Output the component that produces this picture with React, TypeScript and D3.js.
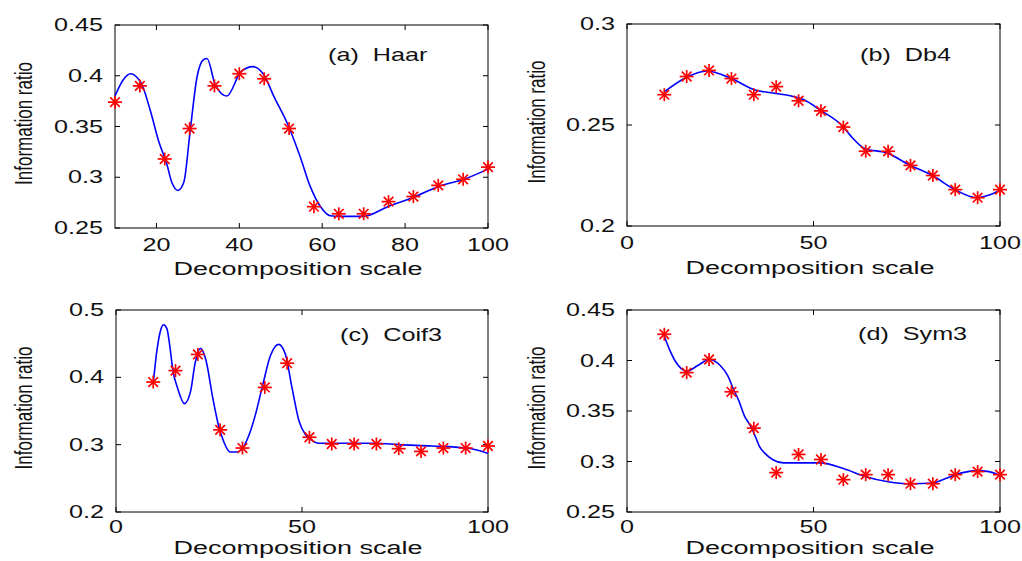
import React from 'react';
import * as d3 from 'd3';

// Decomposition scales at which the information ratio was evaluated
const decompositionScale = [10, 16, 22, 28, 34, 40, 46, 52, 58, 64, 70, 76, 82, 88, 94, 100];

// Measured information ratio per wavelet
const haarRatio = [0.374, 0.39, 0.318, 0.348, 0.39, 0.402, 0.397, 0.348, 0.271, 0.264, 0.264, 0.276, 0.281, 0.292, 0.298, 0.31];
const db4Ratio = [0.265, 0.274, 0.277, 0.273, 0.265, 0.269, 0.262, 0.257, 0.249, 0.237, 0.237, 0.23, 0.225, 0.218, 0.214, 0.218];
const coif3Ratio = [0.393, 0.41, 0.434, 0.322, 0.295, 0.385, 0.421, 0.311, 0.301, 0.301, 0.301, 0.294, 0.29, 0.295, 0.295, 0.298];
const sym3Ratio = [0.426, 0.388, 0.401, 0.369, 0.333, 0.289, 0.307, 0.302, 0.282, 0.287, 0.287, 0.278, 0.278, 0.287, 0.29, 0.287];

// Fitted curves (scale, ratio)
const haarFitX = [10, 12, 13.7, 16.3, 18.5, 20.5, 22.5, 23.7, 25.2, 26.6, 28.2, 29.8, 31.4, 32.2, 34.2, 37, 40.4, 43.3, 45.9, 48.3, 51.9, 54.7, 57.1, 59.6, 62, 64.1, 70, 75.8, 81.9, 88.1, 94.2, 100];
const haarFitY = [0.38, 0.396, 0.402, 0.393, 0.366, 0.336, 0.313, 0.295, 0.287, 0.295, 0.348, 0.399, 0.416, 0.417, 0.391, 0.38, 0.404, 0.409, 0.401, 0.38, 0.35, 0.32, 0.291, 0.271, 0.262, 0.2615, 0.2615, 0.271, 0.28, 0.291, 0.298, 0.308];

const db4FitX = [10, 16, 21.4, 27.9, 33.9, 39.9, 43.75, 47.3, 51.8, 57.8, 59.8, 63.8, 69.7, 75.8, 81.8, 87.9, 93.75, 96.9, 100];
const db4FitY = [0.2664, 0.2736, 0.2767, 0.2731, 0.2676, 0.2656, 0.2645, 0.2626, 0.2574, 0.2494, 0.245, 0.2383, 0.2362, 0.2301, 0.2251, 0.218, 0.214, 0.2152, 0.2177];

const coif3FitX = [10, 11, 12, 12.8, 13.7, 14.5, 15.3, 16.5, 18.4, 20, 21.3, 22.7, 24.2, 26, 27.5, 29, 30.7, 32.5, 34.3, 36, 37.5, 39.5, 41.5, 43.7, 45.5, 47.3, 49.2, 50.9, 52.5, 54.5, 58, 70, 76, 85, 94, 97, 100];
const coif3FitY = [0.39, 0.44, 0.47, 0.478, 0.472, 0.445, 0.41, 0.385, 0.361, 0.378, 0.422, 0.443, 0.425, 0.37, 0.33, 0.304, 0.289, 0.289, 0.297, 0.318, 0.345, 0.39, 0.432, 0.449, 0.435, 0.385, 0.335, 0.315, 0.307, 0.302, 0.302, 0.302, 0.3, 0.298, 0.295, 0.292, 0.287];

const sym3FitX = [10, 11.5, 13, 16, 19, 22, 25, 27, 28.5, 30, 31.5, 33, 34.5, 35.5, 37, 39, 42, 52, 58, 64, 70, 76, 82, 86, 90, 94, 97, 100];
const sym3FitY = [0.424, 0.41, 0.399, 0.3895, 0.395, 0.401, 0.395, 0.385, 0.372, 0.36, 0.345, 0.336, 0.324, 0.315, 0.308, 0.302, 0.2986, 0.2986, 0.293, 0.285, 0.28, 0.278, 0.2787, 0.284, 0.289, 0.291, 0.29, 0.286];

// Axis ticks
const haarXTicks = [20, 40, 60, 80, 100];
const fullXTicks = [0, 50, 100];
const haarYTicks = [0.25, 0.3, 0.35, 0.4, 0.45];
const db4YTicks = [0.2, 0.25, 0.3];
const coif3YTicks = [0.2, 0.3, 0.4, 0.5];
const sym3YTicks = [0.25, 0.3, 0.35, 0.4, 0.45];

const titles = ['(a)  Haar', '(b)  Db4', '(c)  Coif3', '(d)  Sym3'];

const FONT = '"Liberation Sans", Arial, Helvetica, sans-serif';
const SX = 1.4; // horizontal text stretch
const TEXT_COLOR = '#111';

interface PanelProps {
  left: number; right: number; top: number; bottom: number;
  xDomain: [number, number]; yDomain: [number, number];
  xTicks: number[]; yTicks: number[];
  points: number[]; fitX: number[]; fitY: number[];
  title: string; titleX: number; titleY: number; yLabelX: number;
  xLabelY: number; xLabelCx: number; xTickDy: number;
}

function Star({ x, y }: { x: number; y: number }) {
  const h = 7, v = 6.5, d = 4.8;
  return (
    <g stroke="#ff0000" strokeWidth={1.7} strokeLinecap="butt">
      <line x1={x - h} y1={y} x2={x + h} y2={y} />
      <line x1={x} y1={y - v} x2={x} y2={y + v} />
      <line x1={x - d} y1={y - d} x2={x + d} y2={y + d} />
      <line x1={x - d} y1={y + d} x2={x + d} y2={y - d} />
    </g>
  );
}

function Panel(p: PanelProps) {
  const x = d3.scaleLinear().domain(p.xDomain).range([p.left, p.right]);
  const y = d3.scaleLinear().domain(p.yDomain).range([p.bottom, p.top]);
  const fit = p.fitX.map((v, i) => [v, p.fitY[i]] as [number, number]);
  const path = d3.line<[number, number]>()
    .x(d => x(d[0]))
    .y(d => y(d[1]))
    .curve(d3.curveMonotoneX)(fit) || '';
  const tickLen = 5;
  const fmt = (v: number) => String(+v.toFixed(2));
  const midY = (p.top + p.bottom) / 2;
  return (
    <g>
      <rect x={p.left} y={p.top} width={p.right - p.left} height={p.bottom - p.top} fill="#fff" stroke="#000" strokeWidth={1} />
      {p.xTicks.map(t => (
        <g key={'xt' + t}>
          <line x1={x(t)} x2={x(t)} y1={p.bottom} y2={p.bottom - tickLen} stroke="#000" />
          <line x1={x(t)} x2={x(t)} y1={p.top} y2={p.top + tickLen} stroke="#000" />
          <text transform={`translate(${x(t)},${p.bottom + p.xTickDy}) scale(${SX},1)`} textAnchor="middle"
            fontFamily={FONT} fontSize={18} fill={TEXT_COLOR}>{fmt(t)}</text>
        </g>
      ))}
      {p.yTicks.map(t => (
        <g key={'yt' + t}>
          <line x1={p.left} x2={p.left + tickLen} y1={y(t)} y2={y(t)} stroke="#000" />
          <line x1={p.right} x2={p.right - tickLen} y1={y(t)} y2={y(t)} stroke="#000" />
          <text transform={`translate(${p.left - 12},${y(t)}) scale(${SX},1)`} textAnchor="end"
            dominantBaseline="central" fontFamily={FONT} fontSize={18} fill={TEXT_COLOR}>{fmt(t)}</text>
        </g>
      ))}
      <path d={path} fill="none" stroke="#0000ff" strokeWidth={1.6} />
      {decompositionScale.map((s, i) => (
        <Star key={'s' + i} x={x(s)} y={y(p.points[i])} />
      ))}
      <text transform={`translate(${p.titleX},${p.titleY}) scale(${SX},1)`} fontFamily={FONT} fontSize={18}
        fill={TEXT_COLOR} xmlSpace="preserve" style={{ whiteSpace: 'pre' }}>{p.title}</text>
      <text x={p.xLabelCx} y={p.xLabelY} textAnchor="middle" textLength={249} lengthAdjust="spacingAndGlyphs"
        fontFamily={FONT} fontSize={18} fill={TEXT_COLOR}>Decomposition scale</text>
      <text transform={`translate(${p.yLabelX},${midY - 3}) scale(${SX},1) rotate(-90)`} textAnchor="middle"
        dominantBaseline="central" fontFamily={FONT} fontSize={17} fill={TEXT_COLOR}>Information ratio</text>
    </g>
  );
}

export default function App() {
  return (
    <svg width={1022} height={561} viewBox="0 0 1022 561"
      style={{ position: 'absolute', left: 0, top: 0, background: '#fff' }}>
      <rect x={0} y={0} width={1022} height={561} fill="#fff" />
      <Panel left={115} right={488} top={25} bottom={228} xDomain={[10, 100]} yDomain={[0.25, 0.45]}
        xTicks={haarXTicks} yTicks={haarYTicks} points={haarRatio} fitX={haarFitX} fitY={haarFitY}
        title={titles[0]} titleX={328} titleY={61} yLabelX={23} xLabelY={275} xLabelCx={298} xTickDy={23} />
      <Panel left={627} right={1000} top={24} bottom={226} xDomain={[0, 100]} yDomain={[0.2, 0.3]}
        xTicks={fullXTicks} yTicks={db4YTicks} points={db4Ratio} fitX={db4FitX} fitY={db4FitY}
        title={titles[1]} titleX={860} titleY={61} yLabelX={536} xLabelY={274} xLabelCx={810} xTickDy={23} />
      <Panel left={116} right={488} top={310} bottom={512} xDomain={[0, 100]} yDomain={[0.2, 0.5]}
        xTicks={fullXTicks} yTicks={coif3YTicks} points={coif3Ratio} fitX={coif3FitX} fitY={coif3FitY}
        title={titles[2]} titleX={340} titleY={341} yLabelX={23} xLabelY={554} xLabelCx={298} xTickDy={21} />
      <Panel left={627} right={1000} top={310} bottom={512} xDomain={[0, 100]} yDomain={[0.25, 0.45]}
        xTicks={fullXTicks} yTicks={sym3YTicks} points={sym3Ratio} fitX={sym3FitX} fitY={sym3FitY}
        title={titles[3]} titleX={858} titleY={340} yLabelX={536} xLabelY={554} xLabelCx={810} xTickDy={21} />
    </svg>
  );
}
